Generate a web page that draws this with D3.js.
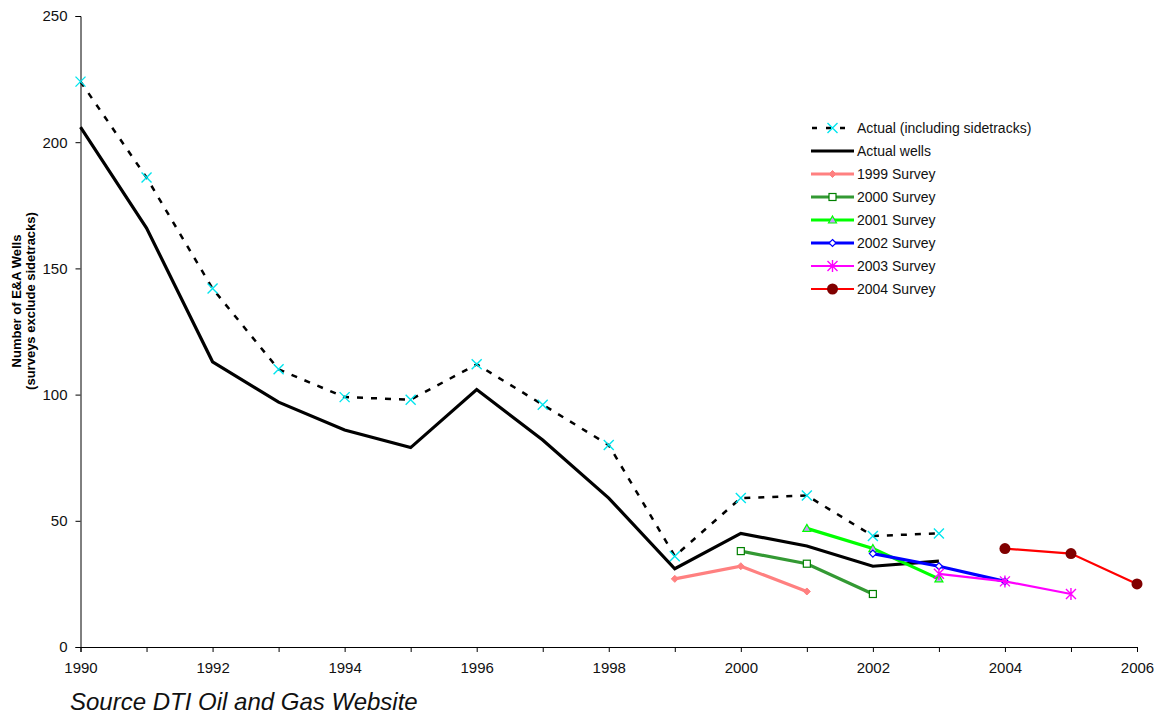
<!DOCTYPE html>
<html>
<head>
<meta charset="utf-8">
<script src="https://cdn.jsdelivr.net/npm/d3@7"></script>
<style>
  html, body { margin: 0; padding: 0; background: #fff; }
  svg text { font-family: "Liberation Sans", Arial, sans-serif; }
</style>
</head>
<body>
<svg id="chart" width="1158" height="715"></svg>
<script>
// E&A well counts: actuals and successive survey forecasts
const years = [1990, 1991, 1992, 1993, 1994, 1995, 1996, 1997, 1998, 1999, 2000, 2001, 2002, 2003];
const actualIncSidetracks = [224, 186, 142, 110, 99, 98, 112, 96, 80, 36, 59, 60, 44, 45];
const actualWells = [206, 166, 113, 97, 86, 79, 102, 82, 59, 31, 45, 40, 32, 34];

const survey1999Years = [1999, 2000, 2001];
const survey1999 = [27, 32, 22];
const survey2000Years = [2000, 2001, 2002];
const survey2000 = [38, 33, 21];
const survey2001Years = [2001, 2002, 2003];
const survey2001 = [47, 39, 27];
const survey2002Years = [2002, 2003, 2004];
const survey2002 = [37, 32, 26];
const survey2003Years = [2003, 2004, 2005];
const survey2003 = [29, 26, 21];
const survey2004Years = [2004, 2005, 2006];
const survey2004 = [39, 37, 25];

const xTickValues = [1990, 1991, 1992, 1993, 1994, 1995, 1996, 1997, 1998, 1999, 2000, 2001, 2002, 2003, 2004, 2005, 2006];
const yTickValues = [0, 50, 100, 150, 200, 250];

const svg = d3.select("#chart");
const plotLeft = 80.5, plotRight = 1137, plotTop = 16, plotBottom = 647;

const x = d3.scaleLinear().domain([1990, 2006]).range([plotLeft, plotRight]);
const y = d3.scaleLinear().domain([0, 250]).range([plotBottom, plotTop]);

// axes
const xAxis = d3.axisBottom(x).tickValues(xTickValues).tickSize(5).tickPadding(10)
  .tickFormat(d => d % 2 === 0 ? d : "");
const gx = svg.append("g").attr("transform", `translate(0,${plotBottom})`).call(xAxis);
gx.select(".domain").attr("stroke", "#000");
gx.selectAll("text").attr("font-size", 15).attr("fill", "#111");

const yAxis = d3.axisLeft(y).tickValues(yTickValues).tickSize(5).tickPadding(8);
const gy = svg.append("g").attr("transform", `translate(${plotLeft},0)`).call(yAxis);
gy.selectAll("text").attr("font-size", 15).attr("fill", "#111");

// y axis title
const yt = svg.append("text")
  .attr("transform", `translate(21,301) rotate(-90)`)
  .attr("text-anchor", "middle").attr("font-size", 13).attr("font-weight", "bold");
yt.append("tspan").attr("x", 0).attr("dy", 0).text("Number of E&A Wells");
yt.append("tspan").attr("x", 0).attr("dy", 14).text("(surveys exclude sidetracks)");

// source note
svg.append("text").attr("x", 70).attr("y", 710)
  .attr("font-size", 24).attr("font-style", "italic").attr("fill", "#111")
  .text("Source DTI Oil and Gas Website");

const pts = (xs, ys) => xs.map((d, i) => [d, ys[i]]);
const line = d3.line().x(d => x(d[0])).y(d => y(d[1]));

// marker painters
function drawMarker(g, type, cx, cy) {
  switch (type) {
    case "x":
      g.append("path").attr("d", `M${cx-5},${cy-5}L${cx+5},${cy+5}M${cx-5},${cy+5}L${cx+5},${cy-5}`)
        .attr("stroke", "#00E5EE").attr("stroke-width", 1.4).attr("fill", "none");
      break;
    case "diamondPink":
      g.append("path").attr("d", `M${cx},${cy-3.5}L${cx+3.5},${cy}L${cx},${cy+3.5}L${cx-3.5},${cy}Z`)
        .attr("fill", "#FF8080").attr("stroke", "#FF8080");
      break;
    case "square":
      g.append("rect").attr("x", cx - 3.5).attr("y", cy - 3.5).attr("width", 7).attr("height", 7)
        .attr("fill", "#fff").attr("stroke", "#008000").attr("stroke-width", 1.2);
      break;
    case "triangle":
      g.append("path").attr("d", `M${cx},${cy-4}L${cx+4},${cy+3}L${cx-4},${cy+3}Z`)
        .attr("fill", "#CC99FF").attr("stroke", "#00FF00").attr("stroke-width", 1.2);
      break;
    case "diamondOpen":
      g.append("path").attr("d", `M${cx},${cy-3.5}L${cx+3.5},${cy}L${cx},${cy+3.5}L${cx-3.5},${cy}Z`)
        .attr("fill", "#fff").attr("stroke", "#0000FF").attr("stroke-width", 1.2);
      break;
    case "star":
      g.append("path").attr("d",
        `M${cx-5},${cy-5}L${cx+5},${cy+5}M${cx-5},${cy+5}L${cx+5},${cy-5}M${cx},${cy-6}L${cx},${cy+6}`)
        .attr("stroke", "#FF00FF").attr("stroke-width", 1.4).attr("fill", "none");
      break;
    case "circle":
      g.append("circle").attr("cx", cx).attr("cy", cy).attr("r", 5.5).attr("fill", "#800000");
      break;
  }
}

const series = [
  { name: "Actual (including sidetracks)", data: pts(years, actualIncSidetracks), color: "#000", width: 2.5, dash: "6,8", marker: "x" },
  { name: "Actual wells", data: pts(years, actualWells), color: "#000", width: 3.2, dash: null, marker: null },
  { name: "1999 Survey", data: pts(survey1999Years, survey1999), color: "#FF8080", width: 3.2, dash: null, marker: "diamondPink" },
  { name: "2000 Survey", data: pts(survey2000Years, survey2000), color: "#339933", width: 3.2, dash: null, marker: "square" },
  { name: "2001 Survey", data: pts(survey2001Years, survey2001), color: "#00FF00", width: 3.2, dash: null, marker: "triangle" },
  { name: "2002 Survey", data: pts(survey2002Years, survey2002), color: "#0000FF", width: 3.2, dash: null, marker: "diamondOpen" },
  { name: "2003 Survey", data: pts(survey2003Years, survey2003), color: "#FF00FF", width: 2.2, dash: null, marker: "star" },
  { name: "2004 Survey", data: pts(survey2004Years, survey2004), color: "#FF0000", width: 2.2, dash: null, marker: "circle" }
];

const plot = svg.append("g");
series.forEach(s => {
  const g = plot.append("g");
  g.append("path").datum(s.data).attr("d", line)
    .attr("fill", "none").attr("stroke", s.color).attr("stroke-width", s.width)
    .attr("stroke-dasharray", s.dash).attr("stroke-linejoin", "miter");
  if (s.marker) s.data.forEach(d => drawMarker(g, s.marker, x(d[0]), y(d[1])));
});

// legend
const legend = svg.append("g");
series.forEach((s, i) => {
  const ly = 128 + i * 23;
  const g = legend.append("g");
  if (s.dash) {
    g.append("path").attr("d", `M812,${ly}L853,${ly}`).attr("stroke", s.color)
      .attr("stroke-width", s.width).attr("stroke-dasharray", "5,9");
  } else {
    g.append("path").attr("d", `M811,${ly}L854,${ly}`).attr("stroke", s.color).attr("stroke-width", s.width);
  }
  if (s.marker) drawMarker(g, s.marker, 832.5, ly);
  g.append("text").attr("x", 857).attr("y", ly + 5).attr("font-size", 14).attr("fill", "#111").text(s.name);
});
</script>
</body>
</html>
